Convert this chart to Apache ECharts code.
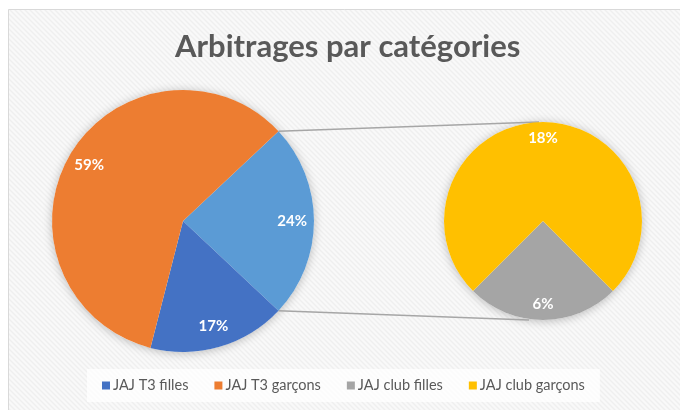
<!DOCTYPE html>
<html>
<head>
<meta charset="utf-8">
<script src="https://cdn.jsdelivr.net/npm/echarts@6/dist/echarts.min.js"></script>
<style>
html, body { margin: 0; padding: 0; background: #fff; }
#chart { width: 680px; height: 410px; }
</style>
</head>
<body>
<div id="chart"></div>
<script>
// donnees
var t3Names = ['JAJ T3 filles', 'JAJ T3 garçons'];
var t3Values = [17, 59];
var clubNames = ['JAJ club filles', 'JAJ club garçons'];
var clubValues = [6, 18];
var legendNames = ['JAJ T3 filles', 'JAJ T3 garçons', 'JAJ club filles', 'JAJ club garçons'];
var otherName = 'Autres';

var t3Colors = ['#4472C4', '#ED7D31'];
var clubColors = ['#A5A5A5', '#FFC000'];
var otherColor = '#5B9BD5';

// position des deux camemberts
var mainC = [183, 221], mainR = 131;
var subC = [543, 221], subR = 99;

var otherValue = clubValues[0] + clubValues[1];
var total = otherValue + t3Values[0] + t3Values[1];
var half = otherValue / total * 360 / 2;        // demi-angle de la part "Autres"
var subStart = 270 + clubValues[0] / otherValue * 360 / 2;

var mainData = [{ name: otherName, value: otherValue, itemStyle: { color: otherColor } }];
for (var i = 0; i < t3Names.length; i++) {
    mainData.push({ name: t3Names[i], value: t3Values[i], itemStyle: { color: t3Colors[i] } });
}
var subData = [];
for (var j = 0; j < clubNames.length; j++) {
    subData.push({ name: clubNames[j], value: clubValues[j], itemStyle: { color: clubColors[j] } });
}

// fond hachuré
function stripes() {
    var c = document.createElement('canvas');
    c.width = 5; c.height = 5;
    var g = c.getContext('2d');
    g.fillStyle = '#f9f9f9';
    g.fillRect(0, 0, 5, 5);
    g.strokeStyle = '#efefef';
    g.lineWidth = 1.4;
    g.beginPath();
    g.moveTo(-5, 0); g.lineTo(5, 10);
    g.moveTo(0, 0); g.lineTo(5, 5);
    g.moveTo(0, -5); g.lineTo(10, 5);
    g.stroke();
    return c;
}

var rad = half * Math.PI / 180;
var p1 = [mainC[0] + mainR * Math.cos(rad), mainC[1] - mainR * Math.sin(rad)];
var p2 = [mainC[0] + mainR * Math.cos(rad), mainC[1] + mainR * Math.sin(rad)];

function labelRing(c, r, data, start) {
    return {
        type: 'pie',
        center: c,
        radius: [r * 0.62, r],
        startAngle: start,
        clockwise: true,
        silent: true,
        legendHoverLink: false,
        data: data.map(function (d) { return { name: d.name, value: d.value }; }),
        itemStyle: { color: 'transparent' },
        label: {
            show: true,
            position: 'inside',
            formatter: '{c}%',
            color: '#fff',
            fontSize: 15,
            fontWeight: 'bold',
            fontFamily: 'Lato'
        },
        labelLine: { show: false },
        emphasis: { disabled: true },
        z: 3
    };
}

var chart = echarts.init(document.getElementById('chart'));
var option = {
    animation: false,
    backgroundColor: '#fff',
    title: {
        text: 'Arbitrages par catégories',
        left: 170,
        top: 26,
        textStyle: { fontFamily: 'Lato', fontSize: 31, fontWeight: 'bold', color: '#595959' }
    },
    legend: {
        data: legendNames,
        left: 87,
        top: 369,
        padding: [9, 15],
        itemWidth: 8,
        itemHeight: 8,
        itemGap: 26,
        icon: 'rect',
        backgroundColor: 'rgba(255,255,255,0.75)',
        textStyle: { fontFamily: 'Lato', fontSize: 14.5, color: '#595959', padding: [0, 0, 0, -2] }
    },
    graphic: [
        {
            type: 'rect', z: -10, silent: true,
            shape: { x: 8.5, y: 9.5, width: 700, height: 420 },
            style: { fill: { image: stripes(), repeat: 'repeat' }, stroke: '#d9d9d9', lineWidth: 1 }
        },
        {
            type: 'circle', z: -5, silent: true,
            shape: { cx: mainC[0], cy: mainC[1], r: mainR },
            style: { fill: '#fff', shadowBlur: 10, shadowColor: 'rgba(0,0,0,0.25)', shadowOffsetY: 1 }
        },
        {
            type: 'circle', z: -5, silent: true,
            shape: { cx: subC[0], cy: subC[1], r: subR },
            style: { fill: '#fff', shadowBlur: 10, shadowColor: 'rgba(0,0,0,0.25)', shadowOffsetY: 1 }
        },
        {
            type: 'line', z: -4, silent: true,
            shape: { x1: p1[0], y1: p1[1], x2: subC[0] - 4, y2: subC[1] - subR },
            style: { stroke: '#a6a6a6', lineWidth: 1.5 }
        },
        {
            type: 'line', z: -4, silent: true,
            shape: { x1: p2[0], y1: p2[1], x2: subC[0] - 14, y2: subC[1] + subR },
            style: { stroke: '#a6a6a6', lineWidth: 1.5 }
        }
    ],
    series: [
        {
            type: 'pie',
            center: mainC,
            radius: mainR,
            startAngle: half,
            clockwise: true,
            data: mainData,
            label: { show: false },
            labelLine: { show: false }
        },
        {
            type: 'pie',
            center: subC,
            radius: subR,
            startAngle: subStart,
            clockwise: true,
            data: subData,
            label: { show: false },
            labelLine: { show: false }
        },
        labelRing(mainC, mainR, mainData, half),
        labelRing(subC, subR, subData, subStart)
    ]
};
chart.setOption(option);
</script>
</body>
</html>
